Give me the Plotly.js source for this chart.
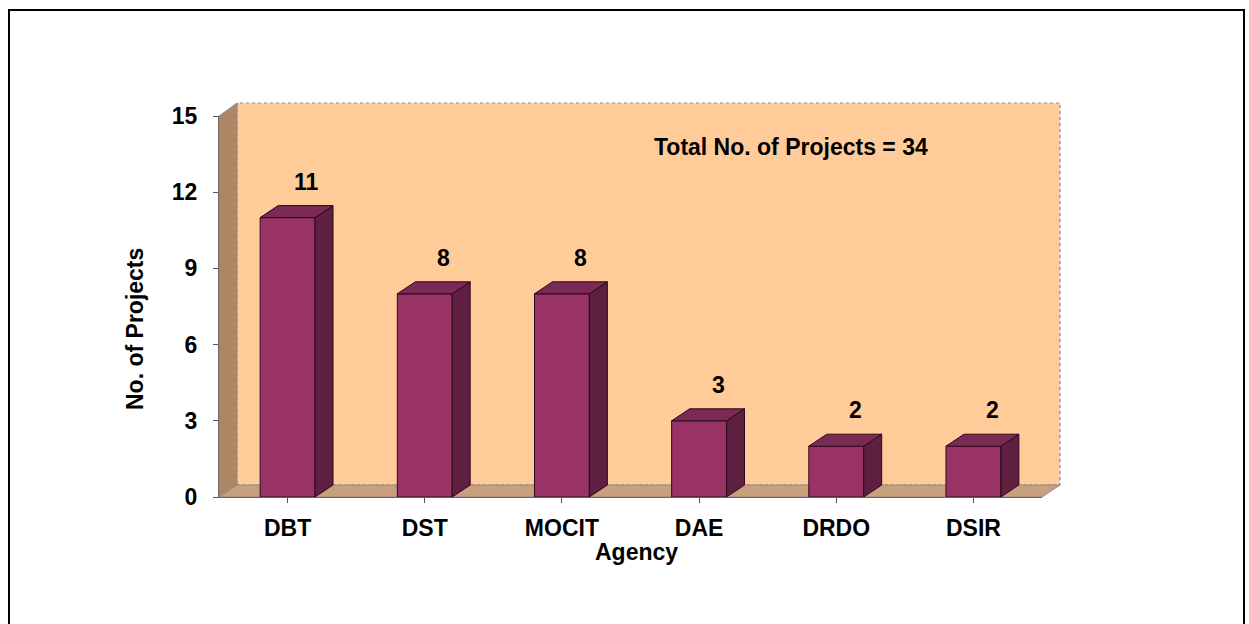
<!DOCTYPE html>
<html>
<head>
<meta charset="utf-8">
<script src="https://cdn.plot.ly/plotly-3.0.1.min.js"></script>
<style>html,body{margin:0;padding:0;background:#fff;}#chart{width:1249px;height:624px;}</style>
</head>
<body>
<div id="chart"></div>
<script>
// ---- data ----
const agencies = ["DBT", "DST", "MOCIT", "DAE", "DRDO", "DSIR"];
const projects = [11, 8, 8, 3, 2, 2];
const yTicks = [0, 3, 6, 9, 12, 15];
const totalNote = "Total No. of Projects = 34";

// ---- layout constants (pixels) ----
const FIG_W = 1249, FIG_H = 624;
const L = 219, R = 1042, T = 116, B = 497;
const PW = R - L, PH = B - T;
const DX = 18, DY = 12;           // 3D depth offset in px
const YMAX = 15;
const BAR_W = 0.4;
const FONT = "Liberation Sans, Arial, sans-serif";
const FS = 23;

const px = x => (x - L) / PW;           // pixel -> paper x
const py = y => (B - y) / PH;           // pixel -> paper y
const ux = DX * agencies.length / PW;   // depth in x data units
const uy = DY * YMAX / PH;              // depth in y data units

const shapes = [];
// back wall
shapes.push({type: "path", xref: "paper", yref: "paper", layer: "below",
  path: `M${px(L+DX)},${py(B-DY)} L${px(R+DX)},${py(B-DY)} L${px(R+DX)},${py(T-13)} L${px(L+DX)},${py(T-13)} Z`,
  fillcolor: "#FFCC99", line: {color: "#8c8c8c", width: 1.2, dash: "dot"}});
// left side wall
shapes.push({type: "path", xref: "paper", yref: "paper", layer: "below",
  path: `M${px(L)},${py(B)} L${px(L)},${py(T)} L${px(L+DX)},${py(T-13)} L${px(L+DX)},${py(B-DY)} Z`,
  fillcolor: "#AD8764", line: {color: "#8c8c8c", width: 1}});
// floor
shapes.push({type: "path", xref: "paper", yref: "paper", layer: "below",
  path: `M${px(L)},${py(B)} L${px(L+DX)},${py(B-DY)} L${px(R+DX)},${py(B-DY)} L${px(R)},${py(B)} Z`,
  fillcolor: "#C8A07C", line: {color: "#8c8c8c", width: 1}});
// outer border
shapes.push({type: "rect", xref: "paper", yref: "paper", layer: "above",
  x0: px(9), x1: px(1244), y0: py(640), y1: py(10),
  fillcolor: "rgba(0,0,0,0)", line: {color: "#000", width: 2}});

// 3D faces of bars (from data)
projects.forEach((v, i) => {
  const x0 = i - BAR_W / 2, x1 = i + BAR_W / 2;
  // side face
  shapes.push({type: "path", xref: "x", yref: "y", layer: "above",
    path: `M${x1},0 L${x1},${v} L${x1+ux},${v+uy} L${x1+ux},${uy} Z`,
    fillcolor: "#5E1F41", line: {color: "#2a0a1a", width: 1}});
  // top face
  shapes.push({type: "path", xref: "x", yref: "y", layer: "above",
    path: `M${x0},${v} L${x1},${v} L${x1+ux},${v+uy} L${x0+ux},${v+uy} Z`,
    fillcolor: "#7B2A55", line: {color: "#2a0a1a", width: 1}});
});

const bold = {family: FONT, size: FS, color: "#000", weight: "bold"};
const annotations = projects.map((v, i) => ({
  x: i, y: v, xref: "x", yref: "y", text: String(v), showarrow: false,
  xanchor: "center", yanchor: "middle",
  xshift: 19, yshift: 36, font: bold
}));
annotations.push({x: px(791), y: py(147), xref: "paper", yref: "paper", text: totalNote,
  xanchor: "center", yanchor: "middle", showarrow: false, font: bold});
annotations.push({x: px(636), y: py(552), xref: "paper", yref: "paper", text: "Agency",
  xanchor: "center", yanchor: "middle", showarrow: false, font: bold});
annotations.push({x: px(135), y: py(329), xref: "paper", yref: "paper", text: "No. of Projects",
  xanchor: "center", yanchor: "middle", textangle: -90, showarrow: false, font: bold});

const trace = {
  type: "bar", x: agencies.map((_, i) => i), y: projects, width: BAR_W,
  marker: {color: "#993366", line: {color: "#2a0a1a", width: 1}},
  hoverinfo: "skip"
};

const layout = {
  width: FIG_W, height: FIG_H,
  margin: {l: L, r: FIG_W - R, t: T, b: FIG_H - B, pad: 0},
  paper_bgcolor: "#fff", plot_bgcolor: "rgba(0,0,0,0)",
  showlegend: false,
  font: {family: FONT, size: FS, color: "#000"},
  xaxis: {
    range: [-0.5, agencies.length - 0.5], tickmode: "array",
    tickvals: agencies.map((_, i) => i), ticktext: agencies,
    tickson: "boundaries", ticks: "outside", ticklen: 5, tickcolor: "#555",
    showline: true, linecolor: "#666", linewidth: 1, showgrid: false, zeroline: false,
    tickfont: bold, ticklabelstandoff: 5, fixedrange: true
  },
  yaxis: {
    range: [0, YMAX], tickmode: "array", tickvals: yTicks,
    ticks: "outside", ticklen: 5, tickcolor: "#555",
    showline: true, linecolor: "#666", linewidth: 1, showgrid: false, zeroline: false,
    tickfont: bold, ticklabelstandoff: 11, fixedrange: true
  },
  shapes: shapes,
  annotations: annotations
};

Plotly.newPlot("chart", [trace], layout, {displayModeBar: false, staticPlot: true});
</script>
</body>
</html>
